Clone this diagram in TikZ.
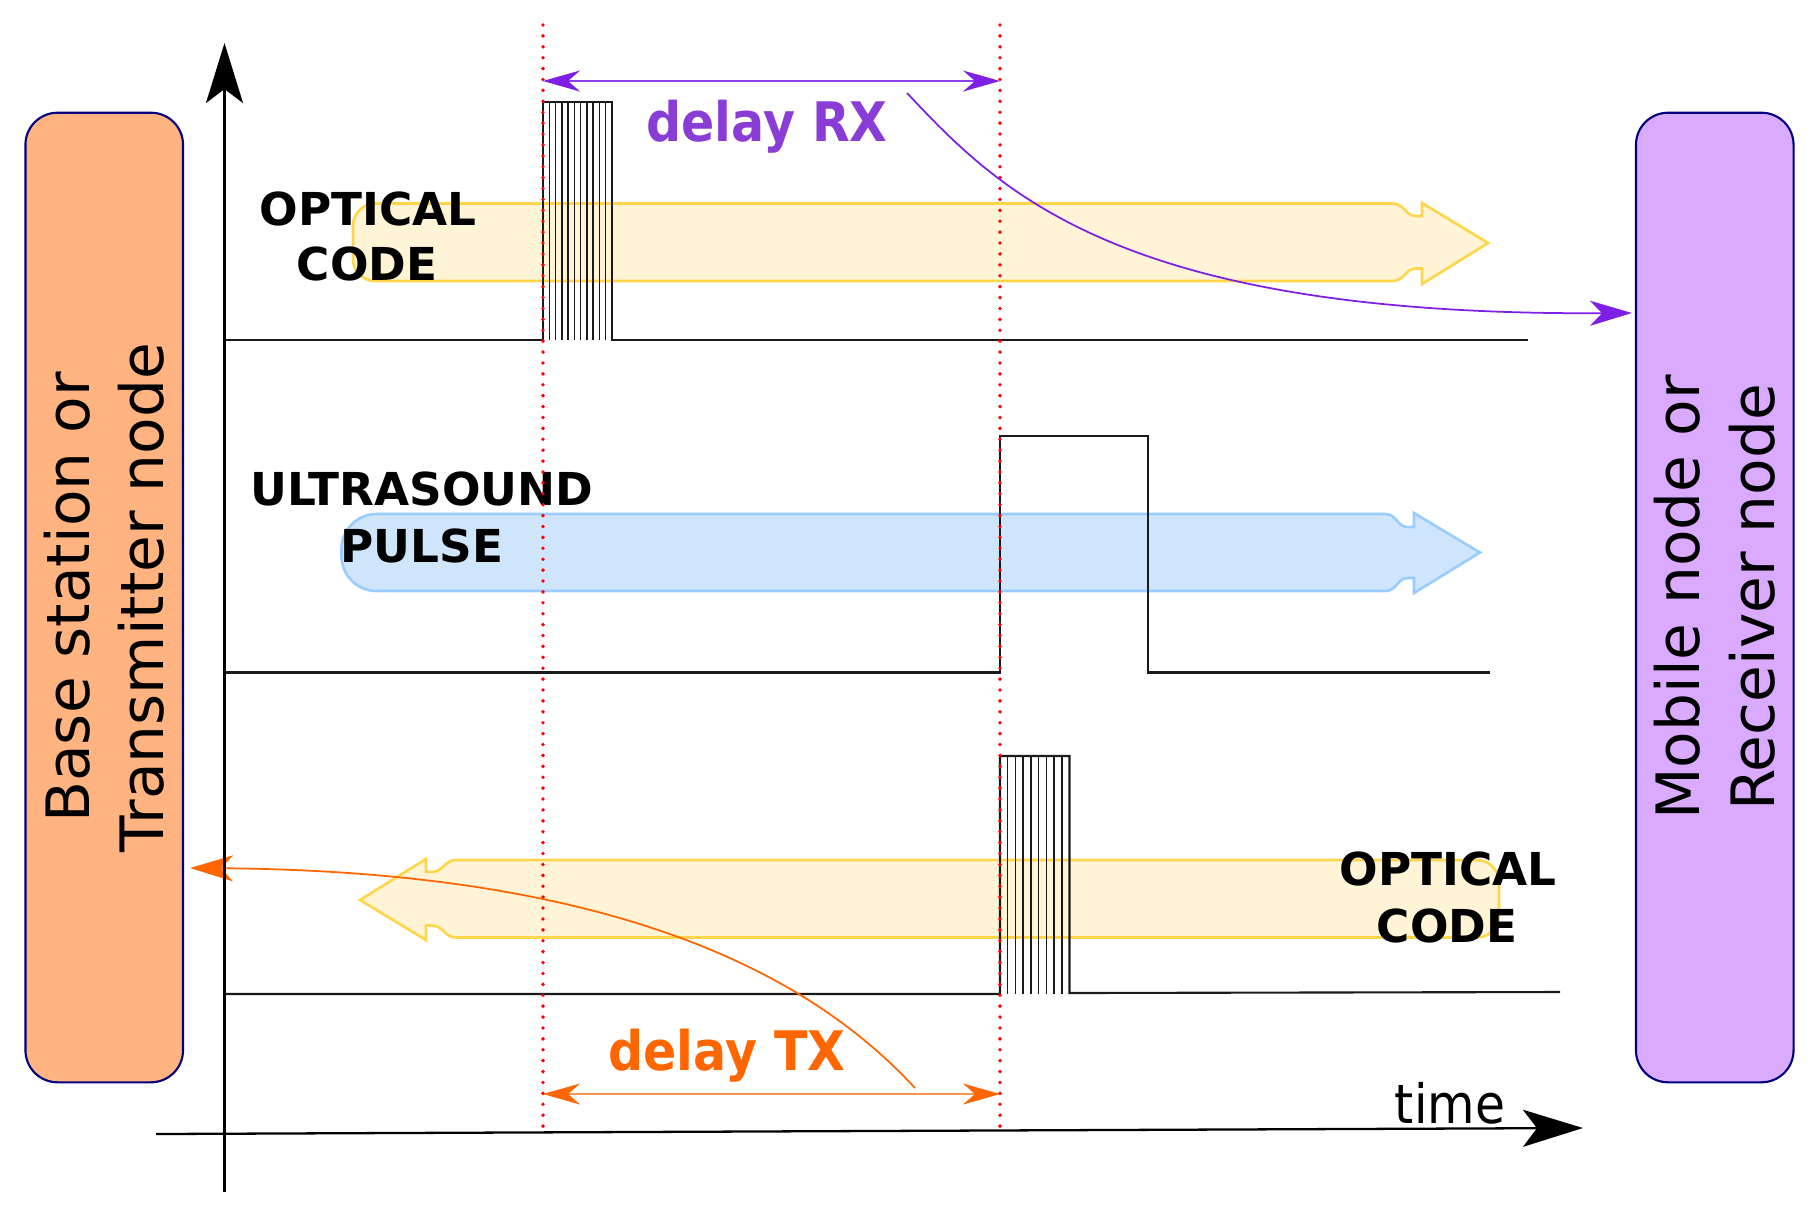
\documentclass[tikz,border=0pt]{standalone}
\usepackage{fontspec}
\setmainfont{DejaVu Sans}
\newfontfamily\nfont[FakeStretch=0.9]{DejaVu Sans}
\usetikzlibrary{arrows.meta}
\definecolor{lboxfill}{HTML}{FFB380}
\definecolor{rboxfill}{HTML}{D9AAFD}
\definecolor{boxline}{HTML}{00007F}
\definecolor{yfill}{HTML}{FFF4D6}
\definecolor{yline}{HTML}{FFD64A}
\definecolor{bfill}{HTML}{CFE5FC}
\definecolor{bline}{HTML}{99CCFF}
\definecolor{purp}{HTML}{7F1FE6}
\definecolor{purpline}{HTML}{8E3FEA}
\definecolor{purptxt}{HTML}{8A3DD6}
\definecolor{orng}{HTML}{FF6600}
\definecolor{orngl}{HTML}{FF944D}
\definecolor{sigcol}{HTML}{1A1A1A}
\tikzset{
  dtipP/.tip={Stealth[length=0.37cm,width=0.21cm,inset=0.12cm,color=purp]},
  dtipO/.tip={Stealth[length=0.37cm,width=0.21cm,inset=0.12cm,color=orng]},
}
\begin{document}
\begin{tikzpicture}[x=0.01cm,y=-0.01cm,
  nodebox/.style={draw=boxline, line width=0.6pt, rounded corners=0.32cm,
    minimum width=1.575cm, minimum height=9.69cm, inner sep=0pt},
  boxlabel/.style={rotate=90, align=center, inner sep=0pt,
    font=\fontsize{17}{21.3}\selectfont},
  yarrow/.style={fill=yfill, draw=yline, line width=0.75pt},
  barrow/.style={fill=bfill, draw=bline, line width=0.75pt},
  sig/.style={line width=0.6pt, sigcol},
  burst/.style={line width=0.42pt, sigcol},
  reddot/.style={red, line width=1.1pt, line cap=round, dash pattern=on 0pt off 3.1pt},
  boldlab/.style={inner sep=0pt, anchor=base, font=\fontsize{12.9}{15}\selectfont\bfseries},
  delaylab/.style={inner sep=0pt, anchor=base, font=\nfont\fontsize{15.5}{18}\selectfont\bfseries},
  axis/.style={line width=0.65pt, black, -{Stealth[length=0.6cm,width=0.37cm,inset=0.14cm]}},
]
\useasboundingbox (0,0) rectangle (1815,1211);

% side boxes
\node[nodebox, fill=lboxfill] (lbox) at (104.25,597.5) {};
\node[nodebox, fill=rboxfill] (rbox) at (1714.75,597.5) {};
\node[boxlabel] (ltext) at (lbox.center) {Base station or\\Transmitter node};
\node[boxlabel] (rtext) at (rbox.center) {Mobile node or\\Receiver node};

% top yellow arrow (rightwards)
\draw[yarrow] (1392,203.5) .. controls (1405,203.5) and (1405,216) .. (1416,216)
  -- (1422,216) -- (1422,203) -- (1488,243) -- (1422,284) -- (1422,268.5) -- (1416,268.5)
  .. controls (1405,268.5) and (1405,281) .. (1392,281) -- (375,281)
  .. controls (363,281) and (353,271) .. (353,259) -- (353,225.5)
  .. controls (353,213.5) and (363,203.5) .. (375,203.5) -- cycle;

% blue arrow (rightwards)
\draw[barrow] (1385,514) .. controls (1397,514) and (1397,527) .. (1408,527)
  -- (1414,527) -- (1414,513) -- (1480,552.5) -- (1414,593) -- (1414,578) -- (1408,578)
  .. controls (1397,578) and (1397,591) .. (1385,591) -- (376.5,591)
  .. controls (357,591) and (341.5,575) .. (341.5,556) -- (341.5,549)
  .. controls (341.5,530) and (357,514) .. (376.5,514) -- cycle;

% bottom yellow arrow (leftwards)
\draw[yarrow] (456,860) .. controls (444,860) and (444,872) .. (431,872)
  -- (426,872) -- (426,859) -- (360,900) -- (426,940) -- (426,925.5) -- (431,925.5)
  .. controls (444,925.5) and (444,937.5) .. (456,937.5) -- (1477,937.5)
  .. controls (1489,937.5) and (1499,927.5) .. (1499,915.5) -- (1499,882)
  .. controls (1499,870) and (1489,860) .. (1477,860) -- cycle;

% signal 1 : optical code burst
\draw[sig] (224.5,340) -- (543,340) -- (543,101.7) -- (612,101.7) -- (612,340) -- (1528,340);
\foreach \i in {1,...,10} \draw[burst] ({543+\i*6.27},340) -- ({543+\i*6.27},101.7);

% signal 2 : ultrasound pulse
\draw[sig] (224.5,672.5) -- (1000,672.5) -- (1000,436.4) -- (1148,436.4) -- (1148,672.5) -- (1490,672.5);

% signal 3 : optical code burst (reply)
\draw[sig] (224.5,994) -- (1000,994) -- (1000,756) -- (1069.5,756) -- (1069.5,993) -- (1560,992);
\foreach \i in {1,...,8} \draw[burst] ({1000+\i*7.72},994) -- ({1000+\i*7.72},756);

% labels
\node[boldlab] (opt1a) at (368,225) {OPTICAL};
\node[boldlab] (opt1b) at (367,280) {CODE};
\node[boldlab] (usa) at (422,505.8) {ULTRASOUND};
\node[boldlab] (usb) at (422,562) {PULSE};
\node[boldlab] (opt2a) at (1448,885) {OPTICAL};
\node[boldlab] (opt2b) at (1447,942) {CODE};

% red dotted markers
\coordinate (m1t) at (543,25);
\coordinate (m1b) at (543,1129);
\coordinate (m2t) at (1000,25);
\coordinate (m2b) at (1000,1128);
\draw[reddot] (m1t) -- (m1b);
\draw[reddot] (m2t) -- (m2b);

% delay RX
\coordinate (rxL) at (543,81);
\coordinate (rxR) at (1000,81);
\draw[purpline, line width=0.6pt, dtipP-dtipP] (rxL) -- (rxR);
\node[delaylab, text=purptxt] (rxlab) at (767,141.7) {delay RX};
\coordinate (rxs) at (907,93);
\coordinate (rin) at (1632,313);
\draw[purp, line width=0.5pt, -{Stealth[length=0.42cm,width=0.25cm,inset=0.12cm]}]
  (rxs) .. controls (1000,192) and (1120,316) .. (rin);

% delay TX
\coordinate (txL) at (543,1094);
\coordinate (txR) at (1000,1094);
\draw[orngl, line width=0.6pt, dtipO-dtipO] (txL) -- (txR);
\node[delaylab, text=orng] (txlab) at (727,1070) {delay TX};
\coordinate (txs) at (915,1088);
\coordinate (lin) at (190,868);
\draw[orng, line width=0.5pt, -{Stealth[length=0.43cm,width=0.26cm,inset=0.12cm]}]
  (txs) .. controls (808,972) and (612,871) .. (lin);

% axes
\coordinate (vaxb) at (224.5,1192);
\coordinate (vaxt) at (224.5,43);
\coordinate (haxl) at (156,1134);
\coordinate (haxr) at (1583,1128);
\draw[axis] (vaxb) -- (vaxt);
\draw[axis] (haxl) -- (haxr);
\node[inner sep=0pt, anchor=base, font=\nfont\fontsize{15.4}{18}\selectfont] (timelab) at (1450,1123) {time};
\end{tikzpicture}
\end{document}
